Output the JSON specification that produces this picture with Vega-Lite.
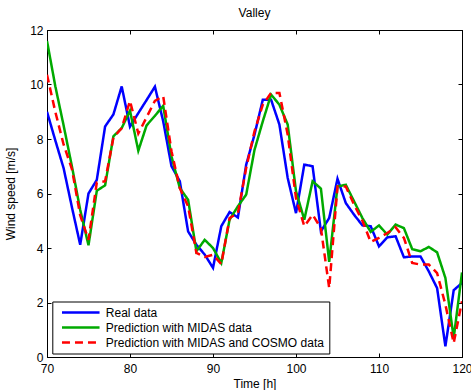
{
  "$schema": "https://vega.github.io/schema/vega-lite/v6.json",
  "width": 415,
  "height": 327,
  "autosize": "none",
  "padding": {"left": 47, "top": 30, "right": 9, "bottom": 33},
  "background": "white",
  "title": {"text": "Valley", "fontSize": 12, "fontWeight": "normal", "font": "Liberation Sans", "color": "black", "offset": 4},
  "config": {
    "view": {"stroke": "black", "strokeWidth": 1},
    "font": "Liberation Sans",
    "axis": {"grid": false, "domainColor": "black", "tickColor": "black", "labelColor": "black", "titleColor": "black", "labelFont": "Liberation Sans", "titleFont": "Liberation Sans", "labelFontSize": 12, "titleFontSize": 12, "titleFontWeight": "normal", "tickSize": -4, "tickWidth": 1}
  },
  "data": {"values": [
    {"t":70,"v":9.0,"s":"Real data"},{"t":71,"v":7.95,"s":"Real data"},{"t":72,"v":6.93,"s":"Real data"},{"t":73,"v":5.5,"s":"Real data"},{"t":74,"v":4.12,"s":"Real data"},{"t":75,"v":6.0,"s":"Real data"},{"t":76,"v":6.5,"s":"Real data"},{"t":77,"v":8.46,"s":"Real data"},{"t":78,"v":8.9,"s":"Real data"},{"t":79,"v":9.93,"s":"Real data"},{"t":80,"v":8.45,"s":"Real data"},{"t":81,"v":8.95,"s":"Real data"},{"t":82,"v":9.43,"s":"Real data"},{"t":83,"v":9.92,"s":"Real data"},{"t":84,"v":8.65,"s":"Real data"},{"t":85,"v":7.0,"s":"Real data"},{"t":86,"v":6.45,"s":"Real data"},{"t":87,"v":4.61,"s":"Real data"},{"t":88,"v":4.12,"s":"Real data"},{"t":89,"v":3.76,"s":"Real data"},{"t":90,"v":3.27,"s":"Real data"},{"t":91,"v":4.8,"s":"Real data"},{"t":92,"v":5.32,"s":"Real data"},{"t":93,"v":5.12,"s":"Real data"},{"t":94,"v":7.06,"s":"Real data"},{"t":95,"v":8.16,"s":"Real data"},{"t":96,"v":9.44,"s":"Real data"},{"t":97,"v":9.44,"s":"Real data"},{"t":98,"v":8.53,"s":"Real data"},{"t":99,"v":6.57,"s":"Real data"},{"t":100,"v":5.28,"s":"Real data"},{"t":101,"v":7.06,"s":"Real data"},{"t":102,"v":7.0,"s":"Real data"},{"t":103,"v":4.61,"s":"Real data"},{"t":104,"v":5.1,"s":"Real data"},{"t":105,"v":6.54,"s":"Real data"},{"t":106,"v":5.65,"s":"Real data"},{"t":107,"v":5.22,"s":"Real data"},{"t":108,"v":4.83,"s":"Real data"},{"t":109,"v":4.8,"s":"Real data"},{"t":110,"v":4.06,"s":"Real data"},{"t":111,"v":4.39,"s":"Real data"},{"t":112,"v":4.43,"s":"Real data"},{"t":113,"v":3.66,"s":"Real data"},{"t":114,"v":3.69,"s":"Real data"},{"t":115,"v":3.69,"s":"Real data"},{"t":116,"v":3.14,"s":"Real data"},{"t":117,"v":2.53,"s":"Real data"},{"t":118,"v":0.39,"s":"Real data"},{"t":119,"v":2.45,"s":"Real data"},{"t":120,"v":2.72,"s":"Real data"},
    {"t":70,"v":11.6,"s":"Prediction with MIDAS data"},{"t":71,"v":9.94,"s":"Prediction with MIDAS data"},{"t":72,"v":8.5,"s":"Prediction with MIDAS data"},{"t":73,"v":7.0,"s":"Prediction with MIDAS data"},{"t":74,"v":5.4,"s":"Prediction with MIDAS data"},{"t":75,"v":4.1,"s":"Prediction with MIDAS data"},{"t":76,"v":6.1,"s":"Prediction with MIDAS data"},{"t":77,"v":6.3,"s":"Prediction with MIDAS data"},{"t":78,"v":8.1,"s":"Prediction with MIDAS data"},{"t":79,"v":8.4,"s":"Prediction with MIDAS data"},{"t":80,"v":9.04,"s":"Prediction with MIDAS data"},{"t":81,"v":7.57,"s":"Prediction with MIDAS data"},{"t":82,"v":8.5,"s":"Prediction with MIDAS data"},{"t":83,"v":8.85,"s":"Prediction with MIDAS data"},{"t":84,"v":9.22,"s":"Prediction with MIDAS data"},{"t":85,"v":7.36,"s":"Prediction with MIDAS data"},{"t":86,"v":6.2,"s":"Prediction with MIDAS data"},{"t":87,"v":5.77,"s":"Prediction with MIDAS data"},{"t":88,"v":3.88,"s":"Prediction with MIDAS data"},{"t":89,"v":4.3,"s":"Prediction with MIDAS data"},{"t":90,"v":4.0,"s":"Prediction with MIDAS data"},{"t":91,"v":3.45,"s":"Prediction with MIDAS data"},{"t":92,"v":5.04,"s":"Prediction with MIDAS data"},{"t":93,"v":5.53,"s":"Prediction with MIDAS data"},{"t":94,"v":5.96,"s":"Prediction with MIDAS data"},{"t":95,"v":7.6,"s":"Prediction with MIDAS data"},{"t":96,"v":8.65,"s":"Prediction with MIDAS data"},{"t":97,"v":9.63,"s":"Prediction with MIDAS data"},{"t":98,"v":9.26,"s":"Prediction with MIDAS data"},{"t":99,"v":8.53,"s":"Prediction with MIDAS data"},{"t":100,"v":6.08,"s":"Prediction with MIDAS data"},{"t":101,"v":5.04,"s":"Prediction with MIDAS data"},{"t":102,"v":6.45,"s":"Prediction with MIDAS data"},{"t":103,"v":6.18,"s":"Prediction with MIDAS data"},{"t":104,"v":3.49,"s":"Prediction with MIDAS data"},{"t":105,"v":6.26,"s":"Prediction with MIDAS data"},{"t":106,"v":6.32,"s":"Prediction with MIDAS data"},{"t":107,"v":5.71,"s":"Prediction with MIDAS data"},{"t":108,"v":5.1,"s":"Prediction with MIDAS data"},{"t":109,"v":4.59,"s":"Prediction with MIDAS data"},{"t":110,"v":4.83,"s":"Prediction with MIDAS data"},{"t":111,"v":4.49,"s":"Prediction with MIDAS data"},{"t":112,"v":4.86,"s":"Prediction with MIDAS data"},{"t":113,"v":4.73,"s":"Prediction with MIDAS data"},{"t":114,"v":3.96,"s":"Prediction with MIDAS data"},{"t":115,"v":3.88,"s":"Prediction with MIDAS data"},{"t":116,"v":4.04,"s":"Prediction with MIDAS data"},{"t":117,"v":3.84,"s":"Prediction with MIDAS data"},{"t":118,"v":2.9,"s":"Prediction with MIDAS data"},{"t":119,"v":0.7,"s":"Prediction with MIDAS data"},{"t":120,"v":3.1,"s":"Prediction with MIDAS data"},
    {"t":70,"v":10.36,"s":"Prediction with MIDAS and COSMO data"},{"t":71,"v":9.0,"s":"Prediction with MIDAS and COSMO data"},{"t":72,"v":7.8,"s":"Prediction with MIDAS and COSMO data"},{"t":73,"v":6.9,"s":"Prediction with MIDAS and COSMO data"},{"t":74,"v":5.2,"s":"Prediction with MIDAS and COSMO data"},{"t":75,"v":4.3,"s":"Prediction with MIDAS and COSMO data"},{"t":76,"v":6.4,"s":"Prediction with MIDAS and COSMO data"},{"t":77,"v":6.45,"s":"Prediction with MIDAS and COSMO data"},{"t":78,"v":8.05,"s":"Prediction with MIDAS and COSMO data"},{"t":79,"v":8.4,"s":"Prediction with MIDAS and COSMO data"},{"t":80,"v":9.4,"s":"Prediction with MIDAS and COSMO data"},{"t":81,"v":8.2,"s":"Prediction with MIDAS and COSMO data"},{"t":82,"v":8.8,"s":"Prediction with MIDAS and COSMO data"},{"t":83,"v":9.4,"s":"Prediction with MIDAS and COSMO data"},{"t":84,"v":9.57,"s":"Prediction with MIDAS and COSMO data"},{"t":85,"v":7.55,"s":"Prediction with MIDAS and COSMO data"},{"t":86,"v":6.2,"s":"Prediction with MIDAS and COSMO data"},{"t":87,"v":5.53,"s":"Prediction with MIDAS and COSMO data"},{"t":88,"v":3.82,"s":"Prediction with MIDAS and COSMO data"},{"t":89,"v":3.67,"s":"Prediction with MIDAS and COSMO data"},{"t":90,"v":3.75,"s":"Prediction with MIDAS and COSMO data"},{"t":91,"v":3.41,"s":"Prediction with MIDAS and COSMO data"},{"t":92,"v":5.1,"s":"Prediction with MIDAS and COSMO data"},{"t":93,"v":5.28,"s":"Prediction with MIDAS and COSMO data"},{"t":94,"v":6.94,"s":"Prediction with MIDAS and COSMO data"},{"t":95,"v":8.28,"s":"Prediction with MIDAS and COSMO data"},{"t":96,"v":9.26,"s":"Prediction with MIDAS and COSMO data"},{"t":97,"v":9.69,"s":"Prediction with MIDAS and COSMO data"},{"t":98,"v":9.69,"s":"Prediction with MIDAS and COSMO data"},{"t":99,"v":8.16,"s":"Prediction with MIDAS and COSMO data"},{"t":100,"v":5.83,"s":"Prediction with MIDAS and COSMO data"},{"t":101,"v":4.8,"s":"Prediction with MIDAS and COSMO data"},{"t":102,"v":5.22,"s":"Prediction with MIDAS and COSMO data"},{"t":103,"v":4.73,"s":"Prediction with MIDAS and COSMO data"},{"t":104,"v":2.53,"s":"Prediction with MIDAS and COSMO data"},{"t":105,"v":6.26,"s":"Prediction with MIDAS and COSMO data"},{"t":106,"v":6.26,"s":"Prediction with MIDAS and COSMO data"},{"t":107,"v":5.59,"s":"Prediction with MIDAS and COSMO data"},{"t":108,"v":5.0,"s":"Prediction with MIDAS and COSMO data"},{"t":109,"v":4.22,"s":"Prediction with MIDAS and COSMO data"},{"t":110,"v":4.37,"s":"Prediction with MIDAS and COSMO data"},{"t":111,"v":4.55,"s":"Prediction with MIDAS and COSMO data"},{"t":112,"v":4.76,"s":"Prediction with MIDAS and COSMO data"},{"t":113,"v":4.37,"s":"Prediction with MIDAS and COSMO data"},{"t":114,"v":3.45,"s":"Prediction with MIDAS and COSMO data"},{"t":115,"v":3.39,"s":"Prediction with MIDAS and COSMO data"},{"t":116,"v":3.39,"s":"Prediction with MIDAS and COSMO data"},{"t":117,"v":3.08,"s":"Prediction with MIDAS and COSMO data"},{"t":118,"v":1.92,"s":"Prediction with MIDAS and COSMO data"},{"t":119,"v":0.51,"s":"Prediction with MIDAS and COSMO data"},{"t":120,"v":2.05,"s":"Prediction with MIDAS and COSMO data"}
  ]},
  "layer": [
    {
      "mark": {"type": "line", "strokeWidth": 2.5, "clip": true},
      "encoding": {
        "x": {"field": "t", "type": "quantitative", "scale": {"domain": [70, 120], "nice": false, "zero": false},
              "axis": {"orient": "bottom", "title": "Time [h]", "values": [70, 80, 90, 100, 110, 120], "labelPadding": 10, "titlePadding": 4, "labelFlush": false}},
        "y": {"field": "v", "type": "quantitative", "scale": {"domain": [0, 12], "nice": false},
              "axis": {"orient": "left", "title": "Wind speed [m/s]", "values": [0, 2, 4, 6, 8, 10, 12], "labelPadding": 8, "titlePadding": 12, "labelFlush": false}},
        "color": {"field": "s", "type": "nominal",
                  "scale": {"domain": ["Real data", "Prediction with MIDAS data", "Prediction with MIDAS and COSMO data"], "range": ["#0000ff", "#00aa00", "#ff0000"]},
                  "legend": {"title": null, "orient": "none", "legendX": 5.3, "legendY": 271.5, "strokeColor": "black", "fillColor": "white", "padding": 5, "labelFontSize": 12, "labelFont": "Liberation Sans", "labelColor": "black", "labelLimit": 400, "symbolType": "M-0.28,0H7.63", "symbolSize": 90.25, "symbolStrokeWidth": 2.5, "labelOffset": 36.5, "rowPadding": 3, "cornerRadius": 0}},
        "strokeDash": {"field": "s", "type": "nominal",
                  "scale": {"domain": ["Real data", "Prediction with MIDAS data", "Prediction with MIDAS and COSMO data"], "range": [[1, 0], [1, 0], [8, 5]]},
                  "legend": {"title": null, "orient": "none", "legendX": 5.3, "legendY": 271.5, "strokeColor": "black", "fillColor": "white", "padding": 5, "labelFontSize": 12, "labelFont": "Liberation Sans", "labelColor": "black", "labelLimit": 400, "symbolType": "M-0.28,0H7.63", "symbolSize": 90.25, "symbolStrokeWidth": 2.5, "labelOffset": 36.5, "rowPadding": 3, "cornerRadius": 0}}
      }
    },
    {
      "mark": {"type": "point", "opacity": 0},
      "encoding": {
        "x": {"field": "t", "type": "quantitative", "axis": {"orient": "top", "title": null, "labels": false, "values": [70, 80, 90, 100, 110, 120]}},
        "y": {"field": "v", "type": "quantitative", "axis": {"orient": "right", "title": null, "labels": false, "values": [0, 2, 4, 6, 8, 10, 12]}}
      }
    }
  ],
  "resolve": {"axis": {"x": "independent", "y": "independent"}}
}
